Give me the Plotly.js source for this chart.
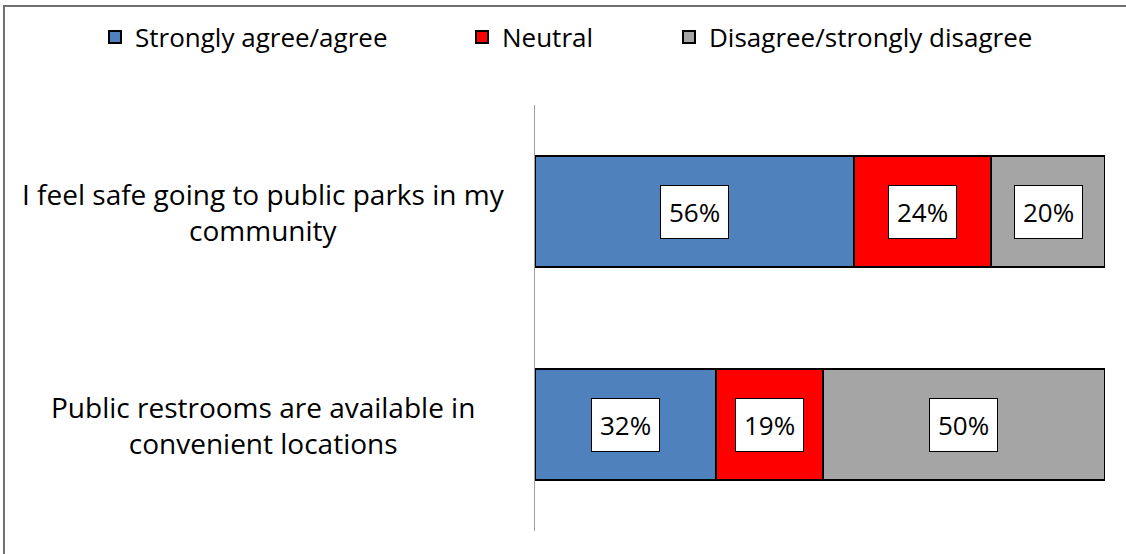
<!DOCTYPE html>
<html>
<head>
<meta charset="utf-8">
<script src="https://cdn.plot.ly/plotly-3.0.1.min.js"></script>
<style>html,body{margin:0;padding:0;background:#fff;}#chart{width:1126px;height:554px;}</style>
</head>
<body>
<div id="chart"></div>
<script>
// Data
const categories = ['I feel safe going to public parks in my community', 'Public restrooms are available in convenient locations'];
const categoryLabels = ['I feel safe going to public parks in my<br>community', 'Public restrooms are available in<br>convenient locations'];
const seriesNames = ['Strongly agree/agree', 'Neutral', 'Disagree/strongly disagree'];
const agree = [56, 32];
const neutral = [24, 19];
const disagree = [20, 50];
const colors = ['#4F81BD', '#FF0000', '#A5A5A5'];

const FONT = '"Open Sans", "Noto Sans", sans-serif';
const series = [agree, neutral, disagree];
const legendIds = ['legend', 'legend2', 'legend3'];

const traces = series.map((vals, i) => ({
  type: 'bar',
  orientation: 'h',
  name: seriesNames[i],
  y: categories,
  x: vals,
  marker: {color: colors[i], line: {color: '#000', width: 2}},
  width: 0.52,
  hoverinfo: 'none',
  legend: legendIds[i]
}));

// annotations: data labels at normalized midpoints
const annotations = [];
categories.forEach((cat, ci) => {
  const total = series.reduce((s, arr) => s + arr[ci], 0);
  let cum = 0;
  series.forEach((arr) => {
    const v = arr[ci] / total * 100;
    annotations.push({
      x: cum + v / 2, y: cat, xref: 'x', yref: 'y',
      text: arr[ci] + '%', showarrow: false,
      font: {family: FONT, size: 26, color: '#000'},
      bgcolor: '#fff', bordercolor: '#000', borderwidth: 1, borderpad: 8
    });
    cum += v;
  });
  annotations.push({
    x: -0.477, y: cat, xref: 'paper', yref: 'y',
    text: categoryLabels[ci], showarrow: false, align: 'center',
    xanchor: 'center', yanchor: 'middle',
    font: {family: FONT, size: 28, color: '#000'}
  });
});

const legendBase = {orientation: 'h', yanchor: 'middle', xanchor: 'left',
  xref: 'container', yref: 'container', y: 1 - 37 / 554,
  font: {family: FONT, size: 26, color: '#000'}, bgcolor: 'rgba(0,0,0,0)', borderwidth: 0};

const layout = {
  width: 1126, height: 554,
  margin: {l: 535, r: 21, t: 105, b: 23},
  paper_bgcolor: '#fff', plot_bgcolor: '#fff',
  barmode: 'stack', barnorm: 'percent',
  showlegend: true,
  xaxis: {range: [0, 100], showgrid: false, zeroline: false, showticklabels: false, ticks: '', showline: false, fixedrange: true},
  yaxis: {autorange: 'reversed', showgrid: false, zeroline: false, showticklabels: false, ticks: '', showline: true, linecolor: '#A0A0A0', linewidth: 1, fixedrange: true},
  legend: Object.assign({}, legendBase, {x: 95 / 1126}),
  legend2: Object.assign({}, legendBase, {x: 462 / 1126}),
  legend3: Object.assign({}, legendBase, {x: 669 / 1126}),
  annotations: annotations,
  shapes: [{type: 'rect', xref: 'paper', yref: 'paper', x0: -0.9316, x1: 1.2, y0: -0.2, y1: 1.2324,
    line: {color: '#707070', width: 2}, fillcolor: 'rgba(0,0,0,0)', layer: 'below'}]
};

Plotly.newPlot('chart', traces, layout, {displayModeBar: false, staticPlot: true});
</script>
</body>
</html>
